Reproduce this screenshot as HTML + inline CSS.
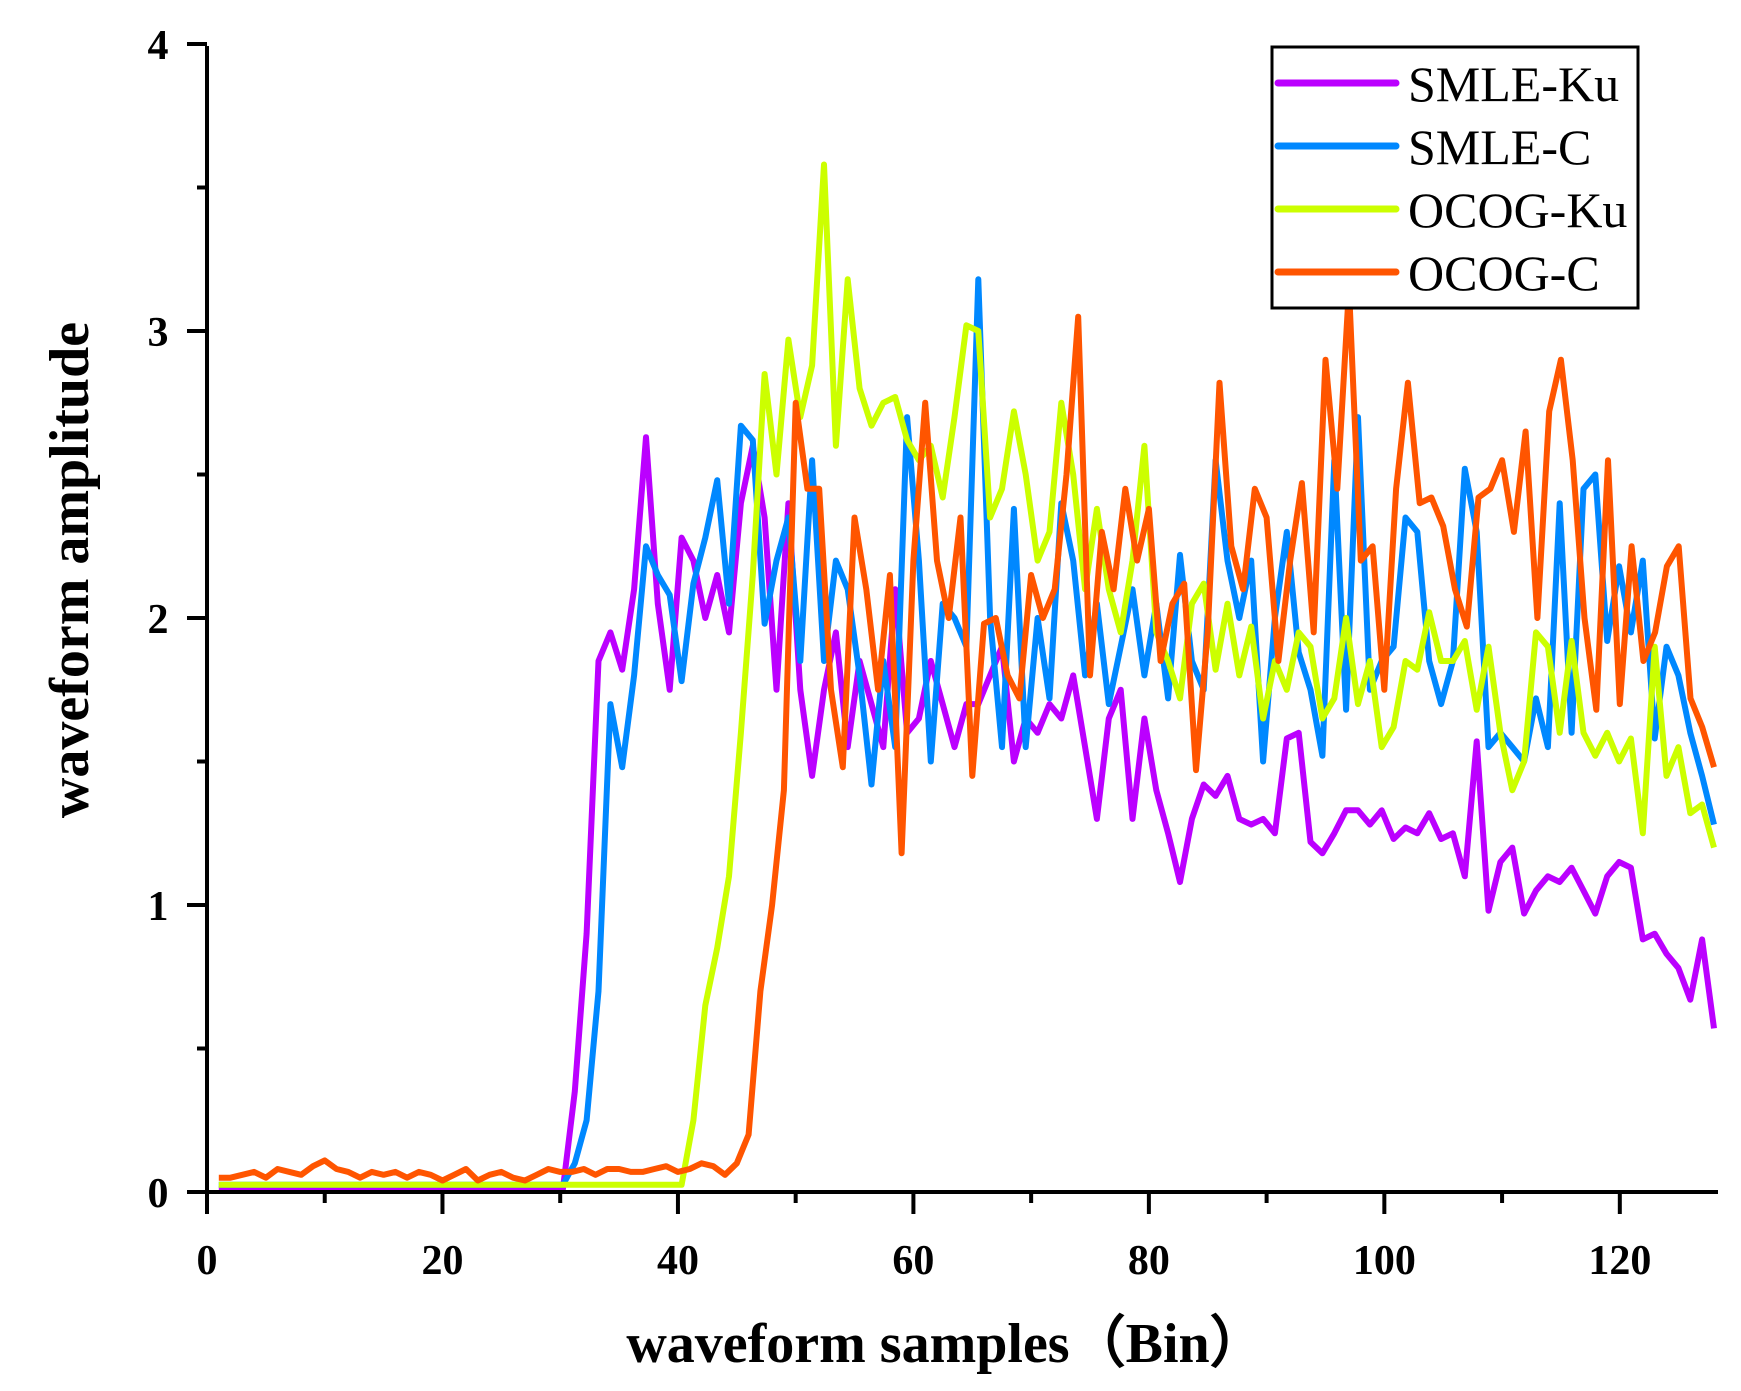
<!DOCTYPE html>
<html><head><meta charset="utf-8"><style>
html,body{margin:0;padding:0;background:#fff;}
svg{display:block;font-family:"Liberation Serif",serif;}
</style></head><body>
<svg id="s" width="1741" height="1391" viewBox="0 0 1741 1391" xmlns="http://www.w3.org/2000/svg">
<g id="plot"></g>
<g id="axes" stroke="#000" stroke-width="4" fill="none"></g>
<g id="labels" font-weight="bold" font-size="42" text-anchor="middle"></g>
<text x="946" y="1362" font-size="56" font-weight="bold" text-anchor="middle">waveform samples（Bin）</text>
<text transform="translate(88,570) rotate(-90)" font-size="56" font-weight="bold" text-anchor="middle">waveform amplitude</text>
<rect x="1272" y="47" width="366" height="261" fill="#fff" stroke="#000" stroke-width="3"/>
<g stroke-width="7" stroke-linecap="round">
<line x1="1278" y1="83" x2="1396" y2="83" stroke="#bb00ff"/>
<line x1="1278" y1="146" x2="1396" y2="146" stroke="#0088ff"/>
<line x1="1278" y1="209" x2="1396" y2="209" stroke="#ccff00"/>
<line x1="1278" y1="272" x2="1396" y2="272" stroke="#ff5500"/>
</g>
<g font-size="50">
<text x="1408" y="101">SMLE-Ku</text>
<text x="1408" y="164">SMLE-C</text>
<text x="1408" y="227">OCOG-Ku</text>
<text x="1408" y="290">OCOG-C</text>
</g>
</svg>
<script>
var X0=207,XS=(1714-207)/128,Y0=1192,YS=287;
function px(b){return X0+b*XS;} function py(v){return Y0-v*YS;}
function pad(n,v,arr){var a=[];for(var i=0;i<n;i++)a.push(v);return a.concat(arr);}
var pur=pad(30,0.01,[0.35,0.9,1.85,1.95,1.82,2.1,2.63,2.05,1.75,2.28,2.2,2.0,2.15,1.95,2.4,2.6,2.35,1.75,2.4,1.75,1.45,1.75,1.95,1.55,1.85,1.7,1.55,2.1,1.6,1.65,1.85,1.7,1.55,1.7,1.7,1.8,1.9,1.5,1.65,1.6,1.7,1.65,1.8,1.55,1.3,1.65,1.75,1.3,1.65,1.4,1.25,1.08,1.3,1.42,1.38,1.45,1.3,1.28,1.3,1.25,1.58,1.6,1.22,1.18,1.25,1.33,1.33,1.28,1.33,1.23,1.27,1.25,1.32,1.23,1.25,1.1,1.57,0.98,1.15,1.2,0.97,1.05,1.1,1.08,1.13,1.05,0.97,1.1,1.15,1.13,0.88,0.9,0.83,0.78,0.67,0.88,0.57]);
var blu=pad(30,0.025,[0.1,0.25,0.7,1.7,1.48,1.8,2.25,2.15,2.08,1.78,2.12,2.28,2.48,2.05,2.67,2.62,1.98,2.2,2.35,1.85,2.55,1.85,2.2,2.1,1.8,1.42,1.85,1.55,2.7,2.2,1.5,2.05,2.0,1.9,3.18,2.0,1.55,2.38,1.55,2.0,1.72,2.4,2.2,1.8,2.05,1.7,1.9,2.1,1.8,2.05,1.72,2.22,1.85,1.75,2.55,2.2,2.0,2.2,1.5,2.0,2.3,1.88,1.75,1.52,2.55,1.68,2.7,1.75,1.85,1.9,2.35,2.3,1.85,1.7,1.85,2.52,2.3,1.55,1.6,1.55,1.5,1.72,1.55,2.4,1.6,2.45,2.5,1.92,2.18,1.95,2.2,1.58,1.9,1.8,1.6,1.45,1.28]);
var grn=pad(40,0.025,[0.25,0.65,0.85,1.1,1.6,2.15,2.85,2.5,2.97,2.7,2.88,3.58,2.6,3.18,2.8,2.67,2.75,2.77,2.62,2.55,2.6,2.42,2.7,3.02,3.0,2.35,2.45,2.72,2.5,2.2,2.3,2.75,2.5,2.1,2.38,2.1,1.95,2.2,2.6,1.95,1.85,1.72,2.05,2.12,1.82,2.05,1.8,1.97,1.65,1.85,1.75,1.95,1.9,1.65,1.72,2.0,1.7,1.85,1.55,1.62,1.85,1.82,2.02,1.85,1.85,1.92,1.68,1.9,1.6,1.4,1.5,1.95,1.9,1.6,1.92,1.6,1.52,1.6,1.5,1.58,1.25,1.9,1.45,1.55,1.32,1.35,1.2]);
var orgLow=[0.05,0.05,0.06,0.07,0.05,0.08,0.07,0.06,0.09,0.11,0.08,0.07,0.05,0.07,0.06,0.07,0.05,0.07,0.06,0.04,0.06,0.08,0.04,0.06,0.07,0.05,0.04,0.06,0.08,0.07,0.07,0.08,0.06,0.08,0.08,0.07,0.07,0.08,0.09,0.07,0.08,0.1,0.09,0.06];
var org=orgLow.concat([0.1,0.2,0.7,1.0,1.4,2.75,2.45,2.45,1.75,1.48,2.35,2.1,1.75,2.15,1.18,2.2,2.75,2.2,2.0,2.35,1.45,1.98,2.0,1.8,1.72,2.15,2.0,2.1,2.5,3.05,1.8,2.3,2.1,2.45,2.2,2.38,1.85,2.05,2.12,1.47,1.95,2.82,2.25,2.1,2.45,2.35,1.85,2.2,2.47,1.95,2.9,2.45,3.15,2.2,2.25,1.75,2.45,2.82,2.4,2.42,2.32,2.1,1.97,2.42,2.45,2.55,2.3,2.65,2.0,2.72,2.9,2.55,2.0,1.68,2.55,1.7,2.25,1.85,1.95,2.18,2.25,1.72,1.62,1.48]);
var NS="http://www.w3.org/2000/svg",plot=document.getElementById('plot');
function line(d,c){var n=d.length,s='';for(var i=0;i<n;i++){var b=1+i*127/(n-1);s+=(i?'L':'M')+px(b).toFixed(1)+' '+py(d[i]).toFixed(1);}
var p=document.createElementNS(NS,'path');p.setAttribute('d',s);p.setAttribute('fill','none');p.setAttribute('stroke',c);p.setAttribute('stroke-width','6');p.setAttribute('stroke-linejoin','round');plot.appendChild(p);}
line(pur,'#bb00ff');line(blu,'#0088ff');line(grn,'#ccff00');line(org,'#ff5500');
var ax=document.getElementById('axes'),lb=document.getElementById('labels');
function L(x1,y1,x2,y2){var l=document.createElementNS(NS,'line');l.setAttribute('x1',x1);l.setAttribute('y1',y1);l.setAttribute('x2',x2);l.setAttribute('y2',y2);ax.appendChild(l);}
function T(x,y,t,a){var e=document.createElementNS(NS,'text');e.setAttribute('x',x);e.setAttribute('y',y);if(a)e.setAttribute('text-anchor',a);e.textContent=t;lb.appendChild(e);}
L(187,Y0,1718,Y0);L(X0,46,X0,Y0);
for(var b=0;b<=120;b+=10){var x=px(b);L(x,Y0,x,Y0+(b%20?11:22));if(b%20==0)T(x,1274,b);}
for(var v=0;v<=4;v+=0.5){var y=py(v);L(X0,y,X0-(v%1?10:20),y);if(v%1==0)T(158,y+15,v);}
</script>
</body></html>
